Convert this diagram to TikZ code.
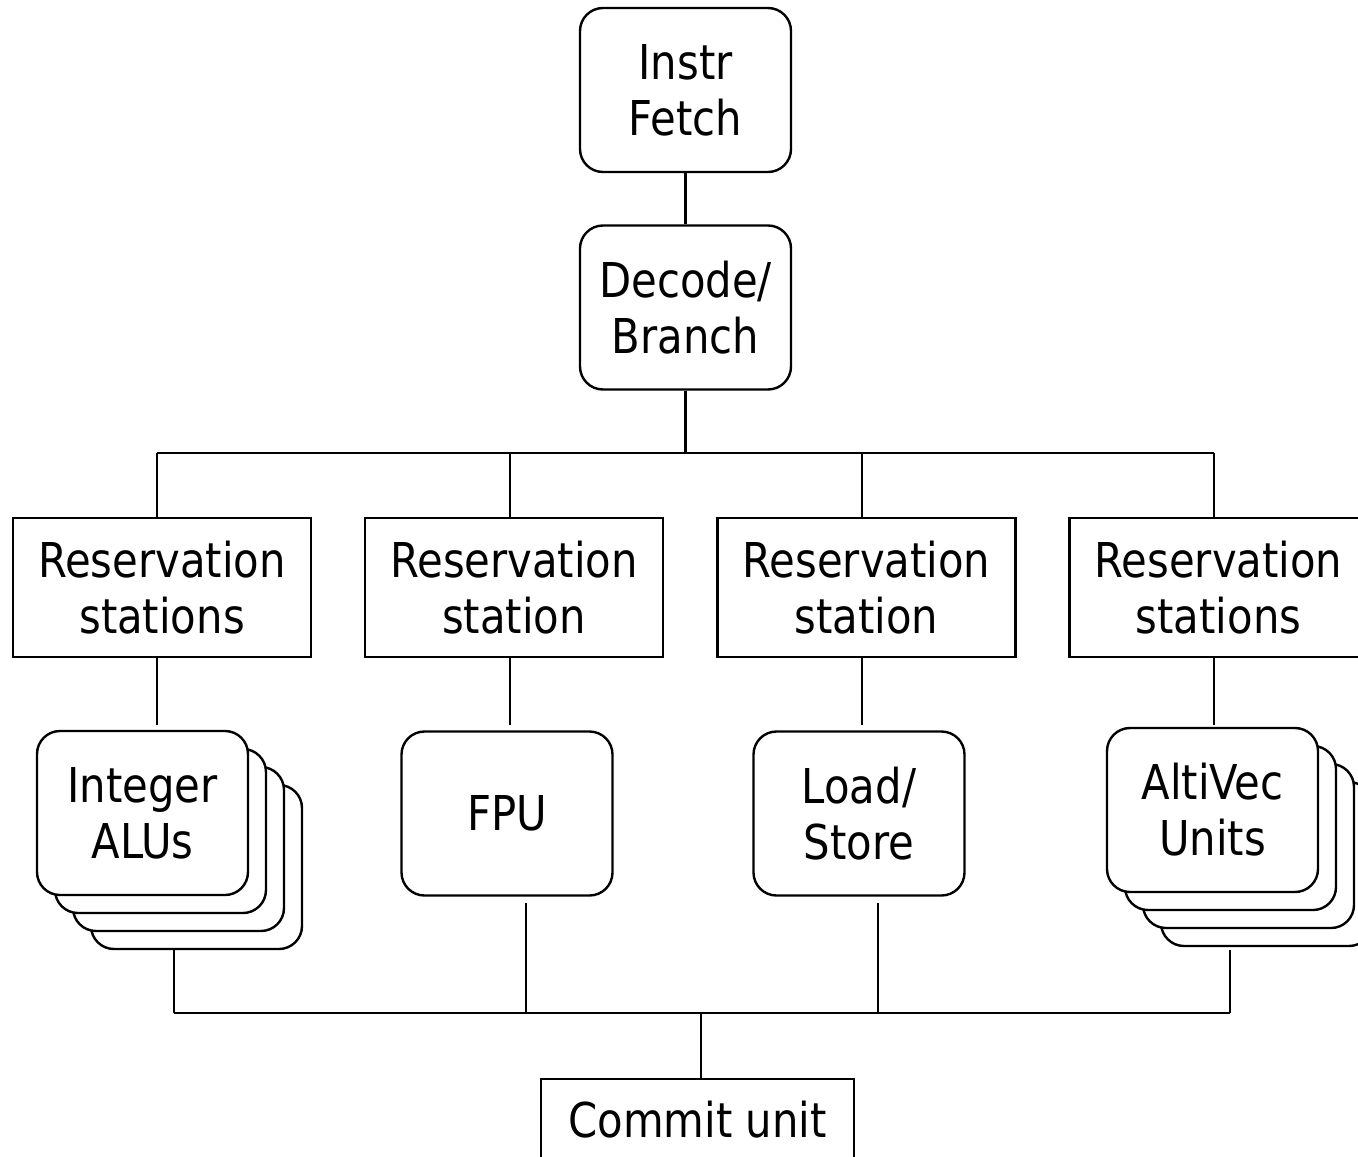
\documentclass[tikz,border=0pt]{standalone}
\usepackage{fontspec}
\setmainfont{DejaVu Sans}[FakeStretch=0.87]
\begin{document}
\begin{tikzpicture}[x=0.5pt,y=-0.5pt,
  every node/.style={font=\fontsize{24}{28}\selectfont, align=center, inner sep=0pt},
  unit/.style={draw, line width=1.2pt, rounded corners=11.5pt, fill=white,
    minimum width=105.5pt, minimum height=82pt},
  rsbox/.style={draw, line width=1.2pt, fill=white,
    minimum width=149pt, minimum height=69.5pt},
  conn/.style={line width=1.2pt}]
\useasboundingbox (0,0) rectangle (1358,1156);

% top
\node[unit] (fetch) at (685.5,90) {Instr\\Fetch};
\node[unit] (decode) at (685.5,307.5) {Decode/\\Branch};

% reservation stations
\node[rsbox] (rs1) at (162,587.5) {Reservation\\stations};
\node[rsbox] (rs2) at (514,587.5) {Reservation\\station};
\node[rsbox] (rs3) at (866.5,587.5) {Reservation\\station};
\node[rsbox] (rs4) at (1218.5,587.5) {Reservation\\stations};

% integer ALU stack
\node[unit] (alu4) at (196.5,867) {};
\node[unit] (alu3) at (178.5,849) {};
\node[unit] (alu2) at (160.5,831) {};
\node[unit] (alu1) at (142.5,813) {Integer\\ALUs};

\node[unit] (fpu) at (507,813.5) {FPU};
\node[unit] (ls) at (859,813.5) {Load/\\Store};

% AltiVec stack
\node[unit] (av4) at (1266.5,864) {};
\node[unit] (av3) at (1248.5,846) {};
\node[unit] (av2) at (1230.5,828) {};
\node[unit] (av1) at (1212.5,810) {AltiVec\\Units};

% commit
\node[draw, line width=1.2pt, fill=white, anchor=north,
  minimum width=156.5pt, minimum height=40pt] (commit) at (697.5,1078) {Commit unit};

% coordinates
\coordinate (tD) at (685.5,453);
\coordinate (t1) at (157,453);
\coordinate (t2) at (510,453);
\coordinate (t3) at (862,453);
\coordinate (t4) at (1214,453);
\coordinate (u1) at (157,725);
\coordinate (u2) at (510,725);
\coordinate (u3) at (862,725);
\coordinate (u4) at (1214,725);
\coordinate (d1) at (174,950);
\coordinate (d2) at (526,903);
\coordinate (d3) at (878,903);
\coordinate (d4) at (1230,950);
\coordinate (c1) at (174,1013);
\coordinate (c2) at (526,1013);
\coordinate (c3) at (878,1013);
\coordinate (c4) at (1230,1013);
\coordinate (cC) at (701,1013);

% connectors
\draw[conn] (fetch.south) -- (decode.north);
\draw[conn] (decode.south) -- (tD);
\draw[conn] (t1) -- (t4);
\draw[conn] (t1) -- (t1 |- rs1.north);
\draw[conn] (t2) -- (t2 |- rs2.north);
\draw[conn] (t3) -- (t3 |- rs3.north);
\draw[conn] (t4) -- (t4 |- rs4.north);
\draw[conn] (u1 |- rs1.south) -- (u1);
\draw[conn] (u2 |- rs2.south) -- (u2);
\draw[conn] (u3 |- rs3.south) -- (u3);
\draw[conn] (u4 |- rs4.south) -- (u4);
\draw[conn] (d1) -- (c1);
\draw[conn] (d2) -- (c2);
\draw[conn] (d3) -- (c3);
\draw[conn] (d4) -- (c4);
\draw[conn] (c1) -- (c4);
\draw[conn] (cC) -- (cC |- commit.north);
\end{tikzpicture}
\end{document}
